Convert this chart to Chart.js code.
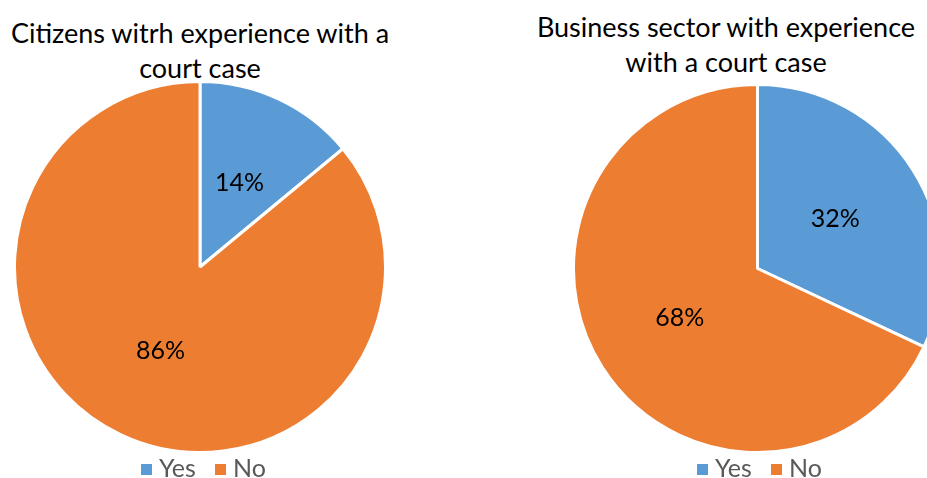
<!DOCTYPE html>
<html>
<head>
<meta charset="utf-8">
<script src="https://cdn.jsdelivr.net/npm/chart.js@4"></script>
<style>
  body { margin: 0; width: 927px; height: 478px; overflow: hidden; background: #fff; position: relative; font-family: Lato, "Open Sans", sans-serif; }
  .title { position: absolute; text-align: center; font-size: 27px; color: #000; line-height: 35px; white-space: nowrap; }
  .legend { position: absolute; font-size: 25px; line-height: 30px; color: #595959; white-space: nowrap; }
  .legend span.sq { display: inline-block; width: 11px; height: 11px; margin-right: 7px; vertical-align: 2px; }
  .box { position: absolute; }
</style>
</head>
<body>

<div class="title" style="left:0; width:400px; top:15px;">Citizens witrh experience with a<br>court case</div>
<div class="title" style="left:526px; width:400px; top:9px;">Business sector with experience<br>with a court case</div>

<div class="box" style="left:13px; top:80px; width:374px; height:374px;"><canvas id="grafico1" width="374" height="374"></canvas></div>
<div class="box" style="left:572px; top:83px; width:371px; height:371px;"><canvas id="grafico2" width="371" height="371"></canvas></div>

<div class="legend" style="left:141px; top:452px;"><span class="sq" style="background:#5B9BD5"></span>Yes&nbsp;&nbsp;&nbsp;<span class="sq" style="background:#ED7D31"></span>No</div>
<div class="legend" style="left:697px; top:452px;"><span class="sq" style="background:#5B9BD5"></span>Yes&nbsp;&nbsp;&nbsp;<span class="sq" style="background:#ED7D31"></span>No</div>

<script>
  // Dados
  var categorias = ['Yes', 'No'];
  var cidadaos = [14, 86];
  var empresas = [32, 68];
  var cores = ['#5B9BD5', '#ED7D31'];

  // Rótulos de percentagem dentro das fatias
  var rotulos = {
    id: 'rotulos',
    afterDatasetsDraw: function (chart) {
      var c = chart.ctx;
      var meta = chart.getDatasetMeta(0);
      var dados = chart.data.datasets[0].data;
      c.save();
      c.font = '25px Lato, "Open Sans", sans-serif';
      c.fillStyle = '#000';
      c.textAlign = 'center';
      c.textBaseline = 'middle';
      meta.data.forEach(function (arc, i) {
        var p = arc.tooltipPosition();
        c.fillText(dados[i] + '%', p.x, p.y);
      });
      c.restore();
    }
  };

  function criaPizza(id, valores) {
    var ctx = document.getElementById(id).getContext('2d');
    return new Chart(ctx, {
      type: 'pie',
      data: {
        labels: categorias,
        datasets: [{
          data: valores,
          backgroundColor: cores,
          borderColor: '#fff',
          borderWidth: 3
        }]
      },
      options: {
        responsive: false,
        animation: false,
        layout: { padding: 0 },
        plugins: {
          legend: { display: false },
          tooltip: { enabled: false }
        }
      },
      plugins: [rotulos]
    });
  }

  criaPizza('grafico1', cidadaos);
  criaPizza('grafico2', empresas);
</script>
</body>
</html>
